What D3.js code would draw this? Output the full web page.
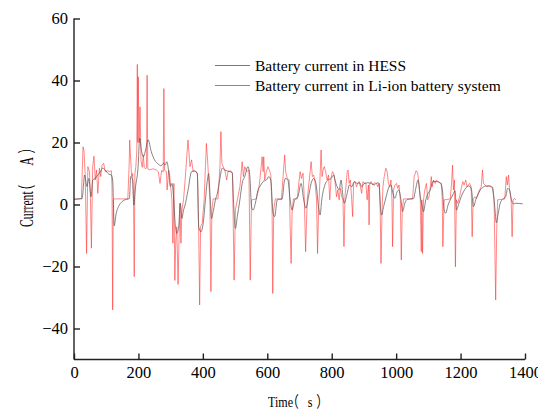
<!DOCTYPE html>
<html>
<head>
<meta charset="utf-8">
<script src="https://cdn.jsdelivr.net/npm/d3@7/dist/d3.min.js"></script>
<style>
  html, body { margin: 0; padding: 0; background: #fff; }
  svg text { font-family: "Liberation Serif", "Times New Roman", "Noto Sans CJK SC", serif; fill: #000; }
</style>
</head>
<body>
<svg id="chart" width="538" height="412"></svg>
<script>
// ---- data ----
const hessTime = [0,25,33,40,46,53,58,66,74,82,89,97,108,116,120,125,130,139,149,164,172,176,182,186,190,199,204,210,216,223,230,240,250,262,270,278,283,288,294,299,304,309,314,319,325,330,335,340,344,354,365,375,383,387,394,401,408,414,418,423,427,433,439,445,453,460,468,484,491,495,501,507,515,522,530,540,546,551,556,563,571,580,587,597,605,611,618,623,631,639,646,652,656,664,671,677,685,695,705,713,720,728,736,744,751,759,764,769,777,788,798,806,810,817,823,829,835,839,848,855,862,870,879,887,893,901,912,922,932,941,947,951,955,961,969,976,984,990,996,1003,1008,1015,1020,1027,1036,1054,1061,1068,1075,1081,1085,1092,1099,1106,1114,1125,1137,1143,1149,1154,1161,1168,1176,1183,1187,1195,1202,1209,1218,1226,1234,1240,1247,1254,1261,1269,1280,1290,1298,1306,1311,1317,1323,1331,1340,1346,1352,1358,1364,1371,1393];
const hessCurrent = [1.7,1.9,9.5,5.8,8.4,2.5,7.9,8.4,9.5,10.6,11.7,11.1,9.8,9.5,7.9,-6.9,-3.4,-0.5,0.9,1.7,1.9,9,7.9,-0.2,4.7,12.2,21.4,17,15.5,18,20.9,17,14.4,13,12.5,13.3,12.7,13.8,10.6,5.8,6.8,2.5,-6.1,-9.3,-7.2,0.4,-4.5,-1.8,-0.5,4.6,10.6,10.9,9.8,-7.2,-8.8,-6.1,1.5,7.9,10,1.5,-4.5,-1.8,1.5,3.6,8.4,11.7,11.1,10.6,10.3,1.5,-7.7,-3.9,1.5,6.8,9,12.2,9,-0.7,-1.8,0.4,4.6,6.3,7.4,7.9,9,7.7,-2.8,-3.9,1.5,1.7,1.7,6.8,8.4,7.9,1.5,-1.8,1.5,2.5,6.8,1.5,-1.2,2.5,6.8,8.4,6.8,-0.7,-3.4,1.5,5.7,7.9,8.4,9.5,7.9,5.7,4.7,7.9,2.5,0.4,3.6,6.3,5.7,7.4,6.8,7,5.7,6.8,7,6.8,6.3,7,6.8,-0.7,-3.4,-0.7,2.5,5.2,6.3,3.6,2,4.1,4.7,1.5,-2.3,0.4,1.7,1.9,5.2,7.9,2.5,-0.7,-2.3,1.5,3.6,4.7,7.4,7.4,7,5.2,-1.8,-2.8,-0.2,1.5,3.1,4.5,-1.8,0.4,2.5,4.1,5.5,6,4.7,-0.7,1.5,3.1,4.7,5.5,6,6,5.5,-0.7,-5.9,-2.8,0.4,1.7,2.5,5.2,4.7,1.5,0.2,0.4,0.2];

const liionTime = [0,23,28,31,35,39,43,48,51,54,58,62,66,70,74,79,83,87,92,97,103,110,116,118,120,122,126,167,171,173,176,179,182,185,187,189,192,195,196.5,198,199.5,202,205,208,212,215,218,222,225,227,229,235,245,255,262,267,272,277,279,281,287,289,294,297,300,304,307,310,313,316,319,323,326,329,332,335,340,345,350,354,360,365,370,377,383,387,390,393,398,404,408,411,414,417,422,425,428,432,447,453,456,459,463,468,474,478,486,492,497,501,507,515,522,526,530,536,543,547,551,566,574,580,584,587,589,592,597,602,608,611,615,617,620,625,644,649,654,657,662,668,671,674,677,681,693,699,702,706,711,715,719,724,728,733,736,740,744,748,753,756,759,763,767,770,773,777,781,786,790,794,798,802,806,810,815,819,823,827,831,835,838,841,845,848,851,854,858,862,865,868,872,877,881,885,889,893,897,901,906,910,914,916,918,922,928,932,939,943,947,950,953,956,959,963,968,972,976,980,984,987,989,992,996,1001,1005,1009,1013,1016,1019,1023,1051,1056,1062,1067,1071,1075,1078,1080,1082,1085,1089,1094,1098,1102,1106,1109,1112,1116,1121,1125,1130,1135,1140,1143,1145,1147,1149,1168,1172,1175,1178,1181,1184,1187,1191,1197,1203,1207,1211,1216,1220,1224,1228,1233,1236,1239,1244,1249,1254,1259,1264,1268,1271,1276,1282,1288,1295,1300,1304,1309,1312,1315,1337,1342,1345,1349,1352,1357,1360,1363,1368,1371];
const liionCurrent = [1.7,1.9,18.6,17.5,9,-15.8,12.2,10.6,2.5,-14.1,12.2,15.6,7.9,11.1,3.6,11.7,9,12.7,13.3,10.6,10.9,10.6,10.9,5.8,-34,1.5,1.8,1.8,12.2,20.8,14.4,9,10,-0.7,-23.3,10,12.2,17.6,45.2,20,41.2,20,31.5,14,12,16,12,11.5,12,41.7,11.5,11.2,11.5,11.2,10.5,6.8,11,10.5,37.4,11,10.6,4.7,11.1,9.5,5.8,1.5,-12.5,6.8,-24.5,-11.4,-7.2,-25.8,-11.4,0.4,-12.5,-1.8,1.5,7.9,15.4,20.8,12.2,14.4,10.6,10.6,10.1,-7.2,-32.4,-7.2,-6.1,1.5,12.2,19.7,15.4,10.1,1.5,-28.1,-1.8,1.8,1.8,12.2,23.5,13.3,12.2,11.1,7.9,10.6,10.9,10.1,-24.4,-1.8,1.5,5.7,13.8,9,12.2,10.6,11.1,-24.4,1.5,1.8,5.2,11.1,15.4,10.6,15.4,7.9,10.6,12.2,10.6,9.5,-2.8,-28.7,-1.8,1.8,1.8,9,16,10.6,8.4,7.9,-7.2,-19,-2.8,1.8,1.8,7.9,10.6,8.4,10.1,1.5,-15.2,1.5,5.7,10.6,13.8,9,9.5,7.4,1.5,-15.8,-2.8,6.8,17.6,9,11.1,12.2,10.6,7.9,9.5,1.5,8.4,10.6,10.1,7.9,2.5,4.7,1.5,5.2,2.5,1.5,-13.6,2.5,6.8,10.6,11.1,6.8,7.9,1.5,-3.9,6.8,7.4,5.7,6.8,7.4,5.7,3.6,7.4,6.8,6.8,1.5,6.3,-6.6,6.8,7.4,6.3,7,6.8,5.7,6.8,1.5,-19,-2.8,5.7,9,11.7,10.6,6.8,5.7,7.9,1.5,-13.6,4.7,6.3,6.8,5.2,6.3,1.5,-17.9,-1.8,1.8,1.8,9,10.9,10.1,6.3,1.5,-15.2,1.5,-15.8,1.5,4.7,6.8,1.5,2.5,5.7,9,5.7,7.9,6.8,7.9,7.4,7,6.8,2.5,-13.6,-6.1,1.5,1.8,6.8,12.7,4.7,7.9,-20.1,1.5,0.4,2.5,5.7,7.4,6.3,7.9,5.7,6.3,6.8,5.7,-10.4,1.5,2.5,2,3.6,4.7,5.7,11.1,6.8,6.3,5.7,6,5.7,5.5,1.8,-30.8,-9.3,1.5,1.8,9,6.3,9.5,4.7,1.5,-10.4,1.5,2,1.5];

const xTicks = [0,200,400,600,800,1000,1200,1400];
const yTicks = [-40,-20,0,20,40,60];
const xDomain = [0,1400];
const yDomain = [-50,60];
const seriesNames = ["Battery current in HESS","Battery current in Li-ion battery system"];
const seriesColors = ["#555555","#ff2a2a"];
// axis titles, split into pieces: word, open paren, unit, close paren
const xTitleParts = ["Time","\uFF08"," s","\uFF09"];
const yTitleParts = ["Current","\uFF08"," A","\uFF09"];

// ---- layout ----
const svg = d3.select("#chart");
const L = 74, R = 525, T = 18.5, B = 359.5;
const x = d3.scaleLinear().domain(xDomain).range([L, R]);
const y = d3.scaleLinear().domain(yDomain).range([B, T]);

const hess = hessTime.map((t,i)=>[t,hessCurrent[i]]);
const liion = liionTime.map((t,i)=>[t,liionCurrent[i]]);

const line = d3.line().x(d=>x(d[0])).y(d=>y(d[1]));
const smooth = d3.line().x(d=>x(d[0])).y(d=>y(d[1])).curve(d3.curveMonotoneX);

svg.append("path").datum(liion).attr("d", line)
  .attr("fill","none").attr("stroke",seriesColors[1]).attr("stroke-width",0.7).attr("stroke-opacity",0.8);
svg.append("path").datum(hess).attr("d", smooth)
  .attr("fill","none").attr("stroke",seriesColors[0]).attr("stroke-width",0.8).attr("stroke-opacity",0.9);

// axes
const xAxis = svg.append("g").attr("transform",`translate(0,${B})`)
  .call(d3.axisBottom(x).tickValues(xTicks).tickSize(-6).tickPadding(7).tickFormat(d3.format("d")));
const yAxis = svg.append("g").attr("transform",`translate(${L},0)`)
  .call(d3.axisLeft(y).tickValues(yTicks).tickSize(-6).tickPadding(6).tickFormat(d3.format("d")));
[xAxis,yAxis].forEach(g=>{
  g.attr("font-family","'Liberation Serif', serif").attr("font-size",16.5);
  g.select(".domain").attr("stroke","#222").attr("stroke-width",1.4);
  g.selectAll(".tick line").attr("stroke","#222").attr("stroke-width",1.4);
  g.selectAll(".tick text").attr("fill","#000");
});
xAxis.select(".domain").attr("d",`M${L},0H${R}`);
yAxis.select(".domain").attr("d",`M0,${B}V${T}`);

// titles (condensed, like the reference)
function title(parts, xs, transform, size){
  const t = svg.append("text").attr("transform", transform).style("font-size", size + "px");
  parts.forEach((p,i)=> t.append("tspan").attr("x", xs[i]).attr("y", 0).text(p));
}
title(xTitleParts, [0, 24, 47, 62], "translate(268,407) scale(0.78,1)", 15.5);
title(yTitleParts, [0, 47, 90, 113], "translate(33,227) rotate(-90) scale(0.65,1)", 18);

// legend
const leg = svg.append("g");
seriesNames.forEach((name,i)=>{
  const yy = 65.5 + i*20;
  leg.append("line").attr("x1",215).attr("x2",250).attr("y1",yy).attr("y2",yy)
    .attr("stroke",seriesColors[i]).attr("stroke-width",0.8);
  leg.append("text").attr("x",255).attr("y",yy+5).style("font-size","15.5px").text(name);
});
</script>
</body>
</html>
